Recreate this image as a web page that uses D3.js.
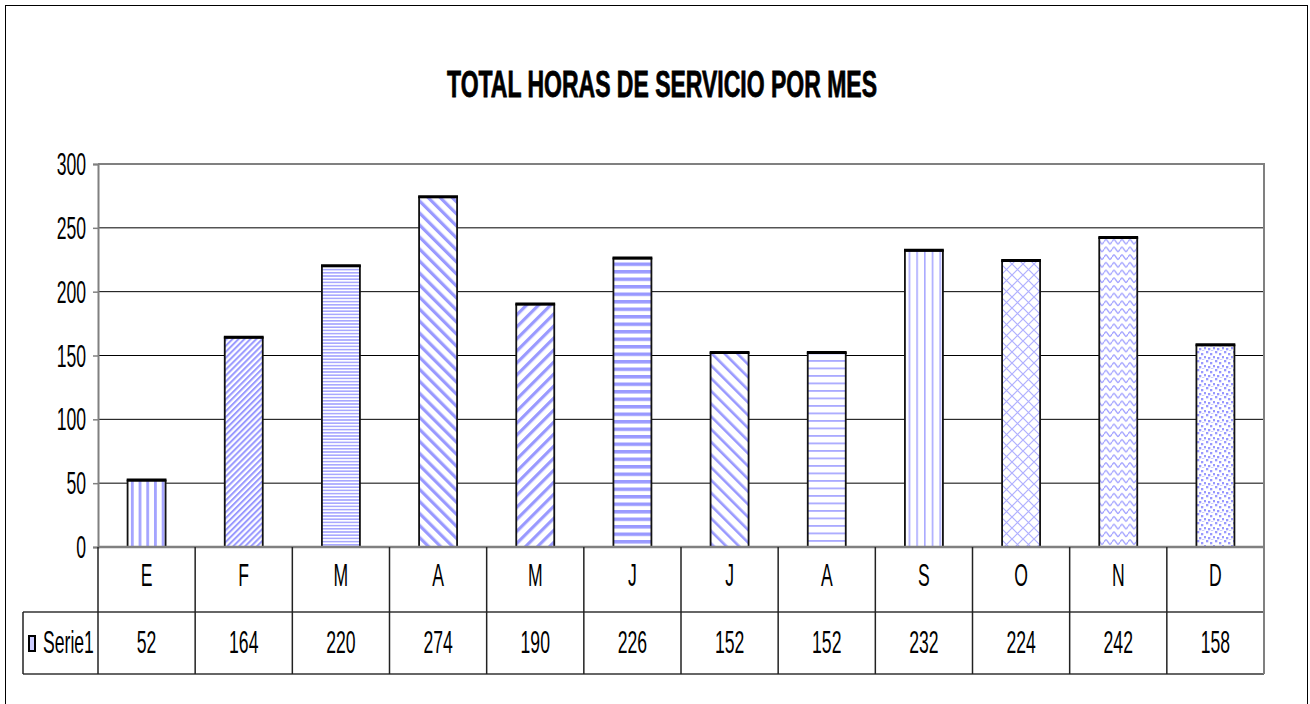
<!DOCTYPE html>
<html>
<head>
<meta charset="utf-8">
<script src="https://cdn.jsdelivr.net/npm/d3@7"></script>
<style>
  body { margin: 0; background: #fff; }
  svg text { font-family: "Liberation Sans", Arial, sans-serif; fill: #000; }
</style>
</head>
<body>
<svg id="chart" width="1310" height="704"></svg>
<script>
// data
const months = ["E", "F", "M", "A", "M", "J", "J", "A", "S", "O", "N", "D"];
const hours = [52, 164, 220, 274, 190, 226, 152, 152, 232, 224, 242, 158];
const yTicks = [0, 50, 100, 150, 200, 250, 300];
const seriesName = "Serie1";
const title = "TOTAL HORAS DE SERVICIO POR MES";
// one hatch per bar, same order as months
const fills = ["vert", "diagUpFine", "horizFine", "diagDown", "diagUp", "horizBold",
               "diagDownLight", "horizLight", "vertThin", "lattice", "wave", "confetti"];

const svg = d3.select("#chart");
const blue = "#9999ff";
const sx = 0.55; // the picture's text is squeezed sideways

const plot = { left: 98, right: 1264, top: 164, bottom: 547 };
const rowMid = 612, rowBottom = 674, legendLeft = 23;

const x = d3.scaleBand().domain(d3.range(months.length)).range([plot.left, plot.right]);
const y = d3.scaleLinear().domain([0, 300]).range([plot.bottom, plot.top]);
const barW = 38;

// ---------- hatch patterns ----------
const defs = svg.append("defs");
function pat(id, w, h) {
  const p = defs.append("pattern").attr("id", id).attr("patternUnits", "userSpaceOnUse")
    .attr("width", w).attr("height", h);
  p.append("rect").attr("width", w).attr("height", h).attr("fill", "#fff");
  return p;
}
function stripes(id, period, width, angle, color) {
  const p = pat(id, period, period).attr("patternTransform", `rotate(${angle})`);
  p.append("rect").attr("x", 0).attr("y", 0).attr("width", width).attr("height", period).attr("fill", color);
}
stripes("vert", 7.7, 2.8, 0, "#a4a4ff");
stripes("vertThin", 7.7, 1.6, 0, "#aaaaff");
stripes("diagUpFine", 4.2, 2, 45, blue);
stripes("diagUp", 8.5, 3.2, 45, blue);
stripes("diagDown", 8.5, 3.2, -45, blue);
stripes("diagDownLight", 9, 2.6, -45, blue);
stripes("horizFine", 3.2, 1.6, 90, "#a8a8ff");
stripes("horizBold", 7.5, 3.5, 90, blue);
stripes("horizLight", 7.5, 1.8, 90, "#aaaaff");

(function () {
  const p = pat("lattice", 11, 11);
  p.append("path").attr("d", "M0,0L11,11M11,0L0,11M-1,10L1,12M10,-1L12,1")
    .attr("stroke", "#b0b0ff").attr("stroke-width", 1.2).attr("fill", "none");
})();
(function () {
  const p = pat("wave", 8, 7.7);
  p.append("path").attr("d", "M0,3C2,0 2,0 4,3S6,6 8,3")
    .attr("stroke", "#a4a4ff").attr("stroke-width", 1.5).attr("fill", "none");
})();
(function () {
  const p = pat("confetti", 9, 9);
  [[0, 0], [4, 2], [7, 5], [2, 6], [5, 8.5]].forEach(d =>
    p.append("rect").attr("x", d[0]).attr("y", d[1]).attr("width", 2.3).attr("height", 2.3).attr("fill", blue));
})();

// ---------- outer frame ----------
svg.append("rect").attr("x", 5.5).attr("y", 5.5).attr("width", 1302).attr("height", 720)
  .attr("fill", "none").attr("stroke", "#000").attr("stroke-width", 1);

// ---------- title ----------
svg.append("text").attr("x", 662).attr("y", 97).attr("text-anchor", "middle")
  .attr("font-size", 36).attr("font-weight", "bold")
  .attr("stroke", "#000").attr("stroke-width", 0.8)
  .attr("textLength", 430).attr("lengthAdjust", "spacingAndGlyphs").text(title);

// ---------- grid ----------
svg.append("g").selectAll("line").data(yTicks.filter(d => d > 0 && d < 300)).join("line")
  .attr("x1", plot.left).attr("x2", plot.right).attr("y1", d => y(d)).attr("y2", d => y(d))
  .attr("stroke", "#000").attr("stroke-width", 1);

// plot area border (top, right) in grey
svg.append("path")
  .attr("d", `M${plot.left},${y(300)}H${plot.right}V${plot.bottom}`)
  .attr("fill", "none").attr("stroke", "#808080").attr("stroke-width", 2);

// ---------- bars ----------
const bars = svg.append("g");
bars.selectAll("rect").data(hours).join("rect")
  .attr("x", (d, i) => x(i) + x.bandwidth() / 2 - barW / 2)
  .attr("y", d => y(d))
  .attr("width", barW)
  .attr("height", d => y(0) - y(d))
  .attr("fill", (d, i) => `url(#${fills[i]})`)
  .attr("stroke", "#111").attr("stroke-width", 1.8);
bars.selectAll("line").data(hours).join("line")
  .attr("x1", (d, i) => x(i) + x.bandwidth() / 2 - barW / 2 - 0.9)
  .attr("x2", (d, i) => x(i) + x.bandwidth() / 2 + barW / 2 + 0.9)
  .attr("y1", d => y(d) - 0.5).attr("y2", d => y(d) - 0.5)
  .attr("stroke", "#000").attr("stroke-width", 3);

// ---------- y axis ----------
const yAxis = d3.axisLeft(y).tickValues(yTicks).tickSize(5).tickFormat("");
const ya = svg.append("g").attr("transform", `translate(${plot.left},0)`).call(yAxis);
ya.select(".domain").attr("stroke", "#808080").attr("stroke-width", 2);
ya.selectAll(".tick line").attr("stroke", "#808080").attr("stroke-width", 1.5);

function squeezed(g, tx, ty, str, anchor) {
  g.append("g").attr("transform", `translate(${tx},${ty}) scale(${sx},1)`)
    .append("text").attr("text-anchor", anchor).attr("font-size", 32).text(str);
}
const labels = svg.append("g");
yTicks.forEach(t => squeezed(labels, 86, y(t) + 11, t, "end"));

// ---------- data table ----------
const table = svg.append("g").attr("stroke-width", 1.5);
// horizontal rules
table.append("line").attr("x1", plot.left).attr("x2", plot.right).attr("y1", plot.bottom).attr("y2", plot.bottom)
  .attr("stroke", "#808080").attr("stroke-width", 2.5);
table.append("line").attr("x1", legendLeft).attr("x2", plot.right).attr("y1", rowMid).attr("y2", rowMid)
  .attr("stroke", "#333");
table.append("line").attr("x1", legendLeft).attr("x2", plot.right).attr("y1", rowBottom).attr("y2", rowBottom)
  .attr("stroke", "#666").attr("stroke-width", 2);
// vertical rules at category boundaries
const bounds = d3.range(months.length + 1).map(i => plot.left + i * x.bandwidth());
table.selectAll("line.v").data(bounds).join("line").attr("class", "v")
  .attr("x1", d => d).attr("x2", d => d).attr("y1", plot.bottom).attr("y2", rowBottom)
  .attr("stroke", (d, i) => i === months.length ? "#808080" : "#222")
  .attr("stroke-width", (d, i) => i === months.length ? 2 : 1.5);
table.append("line").attr("x1", legendLeft).attr("x2", legendLeft).attr("y1", rowMid).attr("y2", rowBottom)
  .attr("stroke", "#222");

months.forEach((m, i) => squeezed(labels, x(i) + x.bandwidth() / 2, 586, m, "middle"));
hours.forEach((v, i) => squeezed(labels, x(i) + x.bandwidth() / 2, 653, v, "middle"));

// legend key + name
svg.append("rect").attr("x", 29).attr("y", 636).attr("width", 6).attr("height", 15)
  .attr("fill", "#ccccff").attr("stroke", "#000").attr("stroke-width", 2);
squeezed(labels, 43, 653, seriesName, "start");
</script>
</body>
</html>
